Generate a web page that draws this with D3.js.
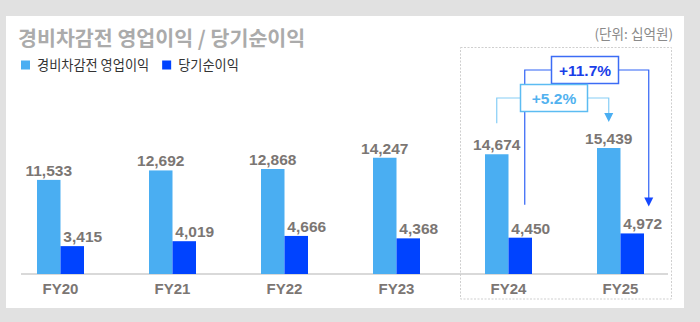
<!DOCTYPE html>
<html>
<head>
<meta charset="utf-8">
<script src="https://cdn.jsdelivr.net/npm/d3@7"></script>
<style>
  html, body { margin: 0; padding: 0; background: #e1e1e1; }
  svg { display: block; }
</style>
</head>
<body>
<svg id="chart" width="700" height="322"></svg>
<script>
// Fiscal years and the two profit series (unit: 십억원)
const categories = ["FY20", "FY21", "FY22", "FY23", "FY24", "FY25"];
const seriesNames = ["경비차감전 영업이익", "당기순이익"];
const operatingProfit = [11533, 12692, 12868, 14247, 14674, 15439];
const netIncome = [3415, 4019, 4666, 4368, 4450, 4972];
const seriesColors = ["#4aaef2", "#0043ff"];

const W = 700, H = 322;
const svg = d3.select("#chart");
const KR = "'Noto Sans CJK KR', 'Noto Sans', sans-serif";
const NUM = "'Liberation Sans', Arial, sans-serif";
const labelGrey = "#7b7673";

// white card
svg.append("rect").attr("x", 6).attr("y", 16).attr("width", 678).attr("height", 292).attr("fill", "#fff");

// title, unit, legend
svg.append("text").attr("x", 18).attr("y", 46)
  .attr("font-family", KR).attr("font-weight", 700).attr("font-size", 20.6)
  .attr("fill", "#ababab").text("경비차감전 영업이익 / 당기순이익");
svg.append("text").attr("x", 673).attr("y", 39).attr("text-anchor", "end")
  .attr("font-family", KR).attr("font-size", 13.6)
  .attr("fill", "#8a8a8a").text("(단위: 십억원)");

const legend = svg.append("g");
let lx = 21;
seriesNames.forEach((name, i) => {
  legend.append("rect").attr("x", lx).attr("y", 60.5).attr("width", 9).attr("height", 9).attr("fill", seriesColors[i]);
  const t = legend.append("text").attr("x", lx + 16).attr("y", 69.5)
    .attr("font-family", KR).attr("font-size", 13.2).attr("fill", "#333").text(name);
  lx += 16 + t.node().getComputedTextLength() + 13;
});

// scales
const x0 = d3.scalePoint().domain(categories).range([60.5, 620.5]);
const x1 = d3.scaleBand().domain([0, 1]).range([-23.5, 23.5]);
const y = d3.scaleLinear().domain([0, 20000]).range([274, 110.8]);

// highlight box around the last two years
svg.append("rect").attr("x", 460.5).attr("y", 47.5).attr("width", 211).attr("height", 251.5)
  .attr("fill", "none").attr("stroke", "#cfcfcf").attr("stroke-width", 1).attr("stroke-dasharray", "2,1.5");

// baseline axis
svg.append("line").attr("x1", 21).attr("x2", 668).attr("y1", y(0)).attr("y2", y(0))
  .attr("stroke", "#cccccc").attr("stroke-width", 1.5);

const rows = categories.map((c, i) => ({ cat: c, vals: [operatingProfit[i], netIncome[i]] }));
const groups = svg.selectAll("g.grp").data(rows).join("g").attr("class", "grp")
  .attr("transform", d => `translate(${x0(d.cat)},0)`);

groups.selectAll("rect").data(d => d.vals.map((v, s) => ({ v, s }))).join("rect")
  .attr("x", d => x1(d.s)).attr("width", x1.bandwidth())
  .attr("y", d => y(d.v)).attr("height", d => y(0) - y(d.v))
  .attr("fill", d => seriesColors[d.s]);

groups.selectAll("text.val").data(d => d.vals.map((v, s) => ({ v, s }))).join("text").attr("class", "val")
  .attr("x", d => x1(d.s) + x1.bandwidth() / 2 + (d.s === 1 ? 10.5 : 0))
  .attr("y", d => y(d.v) - 4)
  .attr("text-anchor", "middle")
  .attr("font-family", NUM).attr("font-weight", 700).attr("font-size", 15.5)
  .attr("fill", labelGrey).text(d => d3.format(",")(d.v));

groups.append("text").attr("x", 0).attr("y", 294).attr("text-anchor", "middle")
  .attr("font-family", NUM).attr("font-weight", 700).attr("font-size", 15)
  .attr("fill", labelGrey).text(d => d.cat);

// growth brackets FY24 -> FY25
const fmtPct = v => "+" + d3.format(".1f")(v) + "%";
const last = categories.length - 1, prev = last - 1;
const gOp = (operatingProfit[last] / operatingProfit[prev] - 1) * 100;
const gNet = (netIncome[last] / netIncome[prev] - 1) * 100;

function bracket(opts) {
  const g = svg.append("g");
  // left leg + left arm
  g.append("path").attr("fill", "none").attr("stroke", opts.lineColor).attr("stroke-width", 1.2)
    .attr("d", `M${opts.xl},${opts.yStart}V${opts.level}H${opts.boxX}`);
  // right arm + right leg
  g.append("path").attr("fill", "none").attr("stroke", opts.lineColor).attr("stroke-width", 1.2)
    .attr("d", `M${opts.boxX + opts.boxW},${opts.level}H${opts.xr}V${opts.yEnd - 8}`);
  g.append("path").attr("fill", opts.arrowColor)
    .attr("d", `M${opts.xr - 4.5},${opts.yEnd - 9}L${opts.xr + 4.5},${opts.yEnd - 9}L${opts.xr},${opts.yEnd}Z`);
  g.append("rect").attr("x", opts.boxX).attr("y", opts.level - opts.boxH / 2)
    .attr("width", opts.boxW).attr("height", opts.boxH)
    .attr("fill", "#fff").attr("stroke", opts.boxColor).attr("stroke-width", 1.5);
  g.append("text").attr("x", opts.boxX + opts.boxW / 2).attr("y", opts.level + 5.5)
    .attr("text-anchor", "middle").attr("font-family", NUM).attr("font-weight", 700)
    .attr("font-size", 15.5).attr("fill", opts.textColor).text(opts.label);
}

const cPrev = x0(categories[prev]), cLast = x0(categories[last]);

// net income bracket (drawn first, sits behind)
bracket({
  xl: cPrev + x1(1) + x1.bandwidth() / 2 + 4.5,
  xr: cLast + x1(1) + x1.bandwidth() / 2 + 16.5,
  yStart: y(netIncome[prev]) - 33,
  yEnd: y(netIncome[last]) - 27,
  level: 70, boxX: 551.5, boxW: 67, boxH: 27,
  lineColor: "#2f62f5", arrowColor: "#1447ff", boxColor: "#3c6cf5", textColor: "#1a3ee8",
  label: fmtPct(gNet)
});

// operating profit bracket
bracket({
  xl: cPrev + x1(0) + x1.bandwidth() / 2,
  xr: cLast + x1(0) + x1.bandwidth() / 2,
  yStart: y(operatingProfit[prev]) - 31,
  yEnd: y(operatingProfit[last]) - 26,
  level: 98, boxX: 520.5, boxW: 67, boxH: 27,
  lineColor: "#86cdf6", arrowColor: "#4aaef2", boxColor: "#5cbcf2", textColor: "#52b2ef",
  label: fmtPct(gOp)
});
</script>
</body>
</html>
